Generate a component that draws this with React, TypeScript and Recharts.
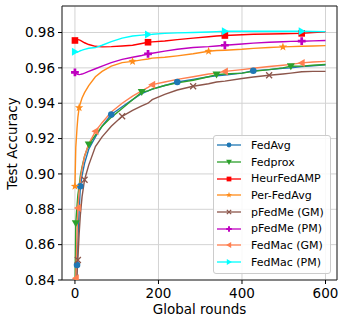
import { LineChart, Line, XAxis, YAxis, CartesianGrid, ReferenceArea, Legend } from "recharts";

const ROUNDS = [0, 2, 5, 7, 10, 13, 17, 23, 33, 49, 65, 87, 113, 138, 160, 175, 185, 215, 245, 283, 320, 339, 359, 400, 427, 465, 498, 517, 543, 570, 600];

const FEDAVG = [0.8, 0.825, 0.8485, 0.862, 0.879, 0.893, 0.899, 0.906, 0.914, 0.921, 0.927, 0.9336, 0.938, 0.942, 0.9455, 0.947, 0.948, 0.95, 0.952, 0.9535, 0.955, 0.9555, 0.956, 0.957, 0.9584, 0.959, 0.9598, 0.96, 0.9607, 0.9612, 0.9617];
const FEDPROX = [0.83, 0.8721, 0.882, 0.888, 0.893, 0.899, 0.904, 0.91, 0.9166, 0.922, 0.927, 0.932, 0.937, 0.942, 0.9463, 0.947, 0.948, 0.95, 0.9515, 0.953, 0.955, 0.9562, 0.9565, 0.957, 0.958, 0.959, 0.96, 0.9609, 0.961, 0.9615, 0.9619];
const HEURFEDAMP = [0.9755, 0.9758, 0.976, 0.976, 0.9758, 0.9755, 0.975, 0.9742, 0.9732, 0.9722, 0.9719, 0.972, 0.9724, 0.9728, 0.9738, 0.9745, 0.9747, 0.9752, 0.976, 0.9768, 0.9776, 0.978, 0.9783, 0.9787, 0.979, 0.9792, 0.9793, 0.9794, 0.9795, 0.98, 0.9804];
const PERFEDAVG = [0.893, 0.915, 0.926, 0.932, 0.9375, 0.94, 0.943, 0.946, 0.95, 0.955, 0.958, 0.961, 0.963, 0.9637, 0.9645, 0.965, 0.9655, 0.966, 0.9668, 0.968, 0.9694, 0.9698, 0.97, 0.9705, 0.971, 0.9715, 0.9719, 0.972, 0.9722, 0.9724, 0.9726];
const PFEDME_GM = [0.8, 0.82, 0.843, 0.8513, 0.866, 0.877, 0.887, 0.8967, 0.905, 0.9155, 0.921, 0.927, 0.9326, 0.936, 0.9385, 0.94, 0.942, 0.945, 0.9475, 0.9496, 0.951, 0.952, 0.9525, 0.954, 0.9548, 0.9558, 0.9565, 0.957, 0.9578, 0.958, 0.958];
const PFEDME_PM = [0.9575, 0.957, 0.9565, 0.9563, 0.9562, 0.9563, 0.9565, 0.957, 0.958, 0.9595, 0.961, 0.963, 0.9648, 0.966, 0.967, 0.9679, 0.9683, 0.9695, 0.9705, 0.9715, 0.972, 0.9724, 0.9728, 0.9735, 0.974, 0.9745, 0.9748, 0.975, 0.9751, 0.9753, 0.9755];
const FEDMAC_GM = [0.83, 0.841, 0.866, 0.8807, 0.89, 0.897, 0.903, 0.91, 0.917, 0.9241, 0.929, 0.935, 0.94, 0.944, 0.947, 0.949, 0.9505, 0.952, 0.9535, 0.955, 0.9565, 0.957, 0.958, 0.959, 0.9598, 0.9608, 0.9615, 0.962, 0.9628, 0.9633, 0.9637];
const FEDMAC_PM = [0.9691, 0.9688, 0.9688, 0.969, 0.9693, 0.9697, 0.97, 0.9705, 0.9711, 0.9715, 0.9728, 0.9748, 0.9768, 0.978, 0.9785, 0.9789, 0.979, 0.9795, 0.9798, 0.98, 0.9803, 0.9805, 0.9807, 0.9807, 0.9807, 0.9807, 0.9807, 0.9807, 0.9807, 0.9806, 0.9805];

// rounds where each curve carries a marker
const FEDAVG_MARKS = [5, 13, 87, 245, 427];
const FEDPROX_MARKS = [2, 33, 160, 339, 517];
const HEURFEDAMP_MARKS = [0, 175, 359, 543];
const PERFEDAVG_MARKS = [0, 10, 138, 320, 498];
const PFEDME_GM_MARKS = [7, 23, 113, 283, 465];
const PFEDME_PM_MARKS = [0, 175, 359, 543];
const FEDMAC_GM_MARKS = [2, 7, 49, 185, 359, 543];
const FEDMAC_PM_MARKS = [0, 175, 359, 543];

const X_TICKS = [0, 200, 400, 600];
const Y_TICKS = [0.84, 0.86, 0.88, 0.9, 0.92, 0.94, 0.96, 0.98];

const SERIES = [
  { key: "fedAvg", name: "FedAvg", values: FEDAVG, marks: FEDAVG_MARKS, color: "#1f77b4", shape: "circle" },
  { key: "fedProx", name: "Fedprox", values: FEDPROX, marks: FEDPROX_MARKS, color: "#2ca02c", shape: "down" },
  { key: "heur", name: "HeurFedAMP", values: HEURFEDAMP, marks: HEURFEDAMP_MARKS, color: "#ff0000", shape: "square" },
  { key: "perFedAvg", name: "Per-FedAvg", values: PERFEDAVG, marks: PERFEDAVG_MARKS, color: "#ff8c1a", shape: "star" },
  { key: "pFedMeGM", name: "pFedMe (GM)", values: PFEDME_GM, marks: PFEDME_GM_MARKS, color: "#8c564b", shape: "x" },
  { key: "pFedMePM", name: "pFedMe (PM)", values: PFEDME_PM, marks: PFEDME_PM_MARKS, color: "#bf00bf", shape: "plus" },
  { key: "fedMacGM", name: "FedMac (GM)", values: FEDMAC_GM, marks: FEDMAC_GM_MARKS, color: "#ff7f50", shape: "left" },
  { key: "fedMacPM", name: "FedMac (PM)", values: FEDMAC_PM, marks: FEDMAC_PM_MARKS, color: "#00ffff", shape: "right" },
];

const data = ROUNDS.map((round, i) => {
  const row: Record<string, number> = { round };
  SERIES.forEach((s) => (row[s.key] = s.values[i]));
  return row;
});

const FONT = "'DejaVu Sans', sans-serif";

function Marker({ shape, x, y, color, k = 1 }: { shape: string; x: number; y: number; color: string; k?: number }) {
  switch (shape) {
    case "circle":
      return <circle cx={x} cy={y} r={3.3 * k} fill={color} />;
    case "square":
      return <rect x={x - 3.3 * k} y={y - 3.3 * k} width={6.6 * k} height={6.6 * k} fill={color} />;
    case "down":
      return <polygon points={`${x - 4 * k},${y - 3 * k} ${x + 4 * k},${y - 3 * k} ${x},${y + 4 * k}`} fill={color} />;
    case "left":
      return <polygon points={`${x - 4 * k},${y} ${x + 3 * k},${y - 4 * k} ${x + 3 * k},${y + 4 * k}`} fill={color} />;
    case "right":
      return <polygon points={`${x + 4 * k},${y} ${x - 3 * k},${y - 4 * k} ${x - 3 * k},${y + 4 * k}`} fill={color} />;
    case "star": {
      const pts: string[] = [];
      for (let i = 0; i < 10; i++) {
        const r = (i % 2 === 0 ? 4.4 : 1.8) * k;
        const a = -Math.PI / 2 + (i * Math.PI) / 5;
        pts.push(`${x + r * Math.cos(a)},${y + r * Math.sin(a)}`);
      }
      return <polygon points={pts.join(" ")} fill={color} />;
    }
    case "x": {
      const d = 3 * k;
      return <path d={`M${x - d},${y - d}L${x + d},${y + d}M${x - d},${y + d}L${x + d},${y - d}`} stroke={color} strokeWidth={1.3} />;
    }
    case "plus": {
      const a = 3.9 * k, b = 1.35 * k;
      return (
        <polygon
          points={`${x - b},${y - a} ${x + b},${y - a} ${x + b},${y - b} ${x + a},${y - b} ${x + a},${y + b} ${x + b},${y + b} ${x + b},${y + a} ${x - b},${y + a} ${x - b},${y + b} ${x - a},${y + b} ${x - a},${y - b} ${x - b},${y - b}`}
          fill={color}
        />
      );
    }
    default:
      return null;
  }
}

function LegendBox() {
  return (
    <div
      style={{
        background: "rgba(255,255,255,0.85)",
        border: "1px solid #cccccc",
        borderRadius: 3,
        padding: "1px 0 2px 3px",
        fontFamily: FONT,
        fontSize: 11,
        color: "#000",
      }}
    >
      {SERIES.map((s) => (
        <div key={s.key} style={{ display: "flex", alignItems: "center", height: 16.7 }}>
          <svg width={24} height={12} style={{ flex: "none" }}>
            <line x1={0} y1={6} x2={24} y2={6} stroke={s.color} strokeWidth={1.3} />
            <Marker shape={s.shape} x={12} y={6} color={s.color} k={0.72} />
          </svg>
          <span style={{ marginLeft: 10, whiteSpace: "nowrap" }}>{s.name}</span>
        </div>
      ))}
    </div>
  );
}

export default function App() {
  return (
    <div style={{ position: "absolute", left: 0, top: 0, width: 346, height: 325, background: "#fff" }}>
      <LineChart width={346} height={325} data={data} margin={{ top: 6, right: 9, left: 0, bottom: 0 }}>
        <CartesianGrid stroke="#d3d3d3" strokeWidth={1} />
        <XAxis
          dataKey="round"
          type="number"
          domain={[-31, 627.5]}
          ticks={X_TICKS}
          allowDataOverflow
          height={45}
          axisLine={false}
          tickLine={{ stroke: "#000" }}
          tickSize={4}
          tickMargin={4}
          tick={{ fill: "#000", fontSize: 13.5, fontFamily: FONT }}
        />
        <YAxis
          type="number"
          domain={[0.84, 0.995]}
          ticks={Y_TICKS}
          allowDataOverflow
          width={62}
          axisLine={false}
          tickLine={{ stroke: "#000" }}
          tickSize={4}
          tickMargin={3}
          tickFormatter={(v: number) => v.toFixed(2)}
          tick={{ fill: "#000", fontSize: 13.5, fontFamily: FONT }}
        />
        <ReferenceArea x1={-31} x2={627.5} y1={0.84} y2={0.995} fill="none" stroke="#222" strokeWidth={1} ifOverflow="visible" />
        {SERIES.map((s) => (
          <Line
            key={s.key}
            dataKey={s.key}
            name={s.name}
            type="linear"
            stroke={s.color}
            strokeWidth={1.4}
            isAnimationActive={false}
            dot={(p: any) =>
              s.marks.includes(p.payload.round) ? (
                <Marker key={`${s.key}-${p.index}`} shape={s.shape} x={p.cx} y={p.cy} color={s.color} />
              ) : (
                <g key={`${s.key}-${p.index}`} />
              )
            }
            activeDot={false}
          />
        ))}
        <Legend
          layout="vertical"
          align="center"
          verticalAlign="middle"
          content={() => <LegendBox />}
          wrapperStyle={{ left: 213, top: 135, width: 118 }}
        />
      </LineChart>
      <svg width={346} height={325} style={{ position: "absolute", left: 0, top: 0, pointerEvents: "none" }}>
        <text x={199.5} y={314} textAnchor="middle" fontFamily={FONT} fontSize={13.5} fill="#000">
          Global rounds
        </text>
        <text
          x={17}
          y={143.5}
          textAnchor="middle"
          fontFamily={FONT}
          fontSize={13.5}
          fill="#000"
          transform="rotate(-90 17 143.5)"
        >
          Test Accuracy
        </text>
      </svg>
    </div>
  );
}
